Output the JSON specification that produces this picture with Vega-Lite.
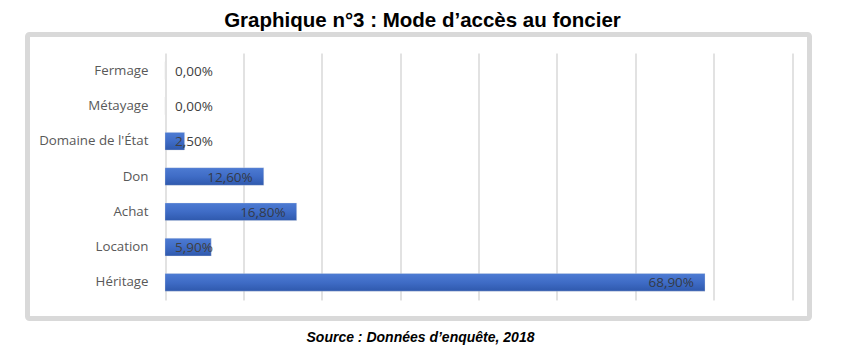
{
  "$schema": "https://vega.github.io/schema/vega-lite/v6.json",
  "width": 782,
  "height": 284,
  "autosize": {"type": "none"},
  "padding": {"left": 27.5, "top": 34.5, "right": 49.5, "bottom": 36.5},
  "background": "white",
  "config": {
    "view": {"stroke": "#d9d9d9", "strokeWidth": 5, "cornerRadius": 2},
    "font": "Open Sans"
  },
  "title": {
    "text": "Graphique n°3 : Mode d’accès au foncier",
    "font": "Liberation Sans",
    "fontSize": 20.5,
    "fontWeight": "bold",
    "color": "#000000",
    "anchor": "middle",
    "dx": 4,
    "offset": 3
  },
  "data": {
    "values": [
      {"mode": "Fermage", "pct": 0.0, "label": "0,00%"},
      {"mode": "Métayage", "pct": 0.0, "label": "0,00%"},
      {"mode": "Domaine de l'État", "pct": 2.5, "label": "2,50%"},
      {"mode": "Don", "pct": 12.6, "label": "12,60%"},
      {"mode": "Achat", "pct": 16.8, "label": "16,80%"},
      {"mode": "Location", "pct": 5.9, "label": "5,90%"},
      {"mode": "Héritage", "pct": 68.9, "label": "68,90%"}
    ]
  },
  "encoding": {
    "y": {
      "field": "mode",
      "type": "nominal",
      "sort": null,
      "scale": {"range": [18.5, 265.5], "paddingInner": 0.5, "paddingOuter": 0.25},
      "axis": {
        "title": null,
        "offset": -137.5,
        "domain": false,
        "ticks": false,
        "labelPadding": 17,
        "labelFont": "Open Sans",
        "labelFontSize": 13.3,
        "labelColor": "#595959",
        "grid": false
      }
    },
    "x": {
      "field": "pct",
      "type": "quantitative",
      "scale": {"domain": [0, 80], "range": [137.5, 764.5], "nice": false},
      "axis": {
        "values": [0, 10, 20, 30, 40, 50, 60, 70, 80],
        "labels": false,
        "ticks": false,
        "domain": false,
        "grid": true,
        "gridColor": "#d9d9d9",
        "gridWidth": 1.5,
        "title": "Source : Données d’enquête, 2018",
        "titleFont": "Liberation Sans",
        "titleFontSize": 14,
        "titleFontWeight": "bold",
        "titleFontStyle": "italic",
        "titleColor": "#000000",
        "titleX": 392.5,
        "titleAlign": "center",
        "titlePadding": 12
      }
    }
  },
  "layer": [
    {
      "mark": {
        "type": "bar",
        "color": {
          "gradient": "linear",
          "x1": 0, "y1": 0, "x2": 0, "y2": 1,
          "stops": [
            {"offset": 0, "color": "#4d7bd3"},
            {"offset": 0.5, "color": "#3f6cc6"},
            {"offset": 1, "color": "#2f59ad"}
          ]
        },
        "stroke": "#e3e3e3",
        "strokeWidth": 0.5,
        "strokeOpacity": 0.6
      }
    },
    {
      "transform": [{"filter": "datum.pct >= 10"}],
      "mark": {"type": "text", "align": "right", "baseline": "middle", "dx": -11, "dy": 1, "fontSize": 13.5, "color": "#333a48"},
      "encoding": {"text": {"field": "label"}}
    },
    {
      "transform": [{"filter": "datum.pct < 10"}],
      "mark": {"type": "text", "align": "left", "baseline": "middle", "dx": 10, "dy": 1, "fontSize": 13.5, "color": "#404040"},
      "encoding": {"x": {"datum": 0}, "text": {"field": "label"}}
    }
  ]
}
